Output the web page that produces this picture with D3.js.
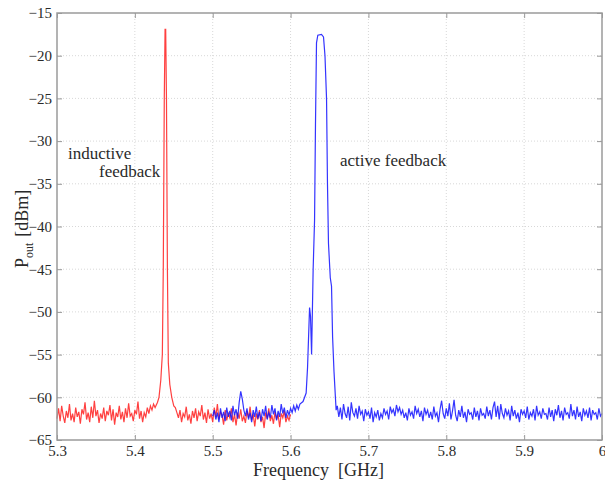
<!DOCTYPE html>
<html>
<head>
<meta charset="utf-8">
<script src="https://cdn.jsdelivr.net/npm/d3@7"></script>
<style>
  body { margin: 0; background: #fff; }
  svg, svg text { font-family: "Liberation Serif", "Times New Roman", Times, "DejaVu Serif", serif; }
  svg { display: block; }
  .grid line { stroke: #d8d8d8; stroke-dasharray: 1,2; }
  .tick text { fill: #2a2a2a; }
</style>
</head>
<body>
<svg id="chart" width="605" height="484"></svg>
<script>
// x and y tick values
var xTicks = [5.3, 5.4, 5.5, 5.6, 5.7, 5.8, 5.9, 6.0];
var xTickLabels = ["5.3", "5.4", "5.5", "5.6", "5.7", "5.8", "5.9", "6"];
var yTicks = [-65, -60, -55, -50, -45, -40, -35, -30, -25, -20, -15];

// sweep grid step of the analyser [GHz]
var sweepStep = 0.002;

// inductive feedback (red): noise floor before the peak, starts at 5.300
var redNoiseA = [-62.5,-61.3,-62.8,-61.0,-62.2,-63.0,-61.6,-62.4,-60.8,-62.7,-61.9,-62.9,-61.2,-62.3,-61.7,-63.1,-61.4,-62.0,-60.6,-62.6,
  -61.8,-62.9,-61.1,-62.4,-60.4,-62.2,-61.5,-63.0,-61.9,-62.5,-61.2,-62.8,-61.6,-62.1,-60.9,-62.7,-61.4,-63.2,-61.8,-62.3,
  -61.0,-62.6,-61.7,-62.9,-61.3,-62.4,-60.7,-62.2,-61.9,-62.8,-61.5,-62.0,-60.5,-62.5,-61.6,-62.9,-61.8,-62.3,-61.2,-61.9,
  -61.0,-61.5,-60.8,-61.2];
var redNoiseAStart = 5.300;
// the carrier peak, [GHz, dBm]
var redPeak = [[5.4290,-60.6],[5.4310,-60.0],[5.4333,-58.0],[5.4353,-55.0],[5.4365,-45.0],[5.4378,-25.0],
  [5.4388,-16.9],[5.4396,-16.9],[5.4406,-25.0],[5.4418,-45.0],[5.4430,-56.0],[5.4449,-58.5],[5.4474,-60.0],[5.4500,-61.0]];
// noise floor after the peak, starts at 5.452
var redNoiseB = [-61.2,-61.8,-62.4,-61.5,-62.9,-61.9,-62.3,-61.1,-62.7,-62.0,-63.1,-61.6,-62.4,-61.3,-62.8,-61.7,-62.2,-60.9,-62.6,-61.8,
  -63.0,-61.4,-62.5,-61.9,-62.9,-61.2,-62.3,-60.8,-62.6,-61.7,-62.1,-63.2,-61.5,-62.7,-61.9,-62.4,-61.3,-62.9,-62.0,-63.3,
  -61.8,-62.5,-61.4,-62.8,-62.2,-63.0,-61.6,-62.4,-61.1,-62.7,-62.0,-63.4,-61.9,-62.6,-61.5,-62.9,-62.3,-63.6,-61.8,-62.5,
  -61.3,-62.8,-62.1,-63.1,-61.7,-62.6,-62.0,-63.5,-61.9,-62.4,-61.6,-62.9,-62.2,-62.7,-62.0];
var redNoiseBStart = 5.452;

// active feedback (blue): noise floor before the peak, starts at 5.500
var blueNoiseA = [-62.2,-61.5,-62.6,-61.8,-62.9,-61.3,-62.4,-61.7,-62.8,-61.2,-62.3,-61.6,-62.7,-61.0,-62.1,-61.4,-62.5,-60.6,-59.3,-60.2,
  -61.5,-62.2,-61.3,-62.6,-61.8,-62.9,-61.5,-62.3,-61.1,-62.5,-61.7,-62.8,-61.4,-62.2,-61.0,-62.6,-61.8,-62.4,-60.9,-62.0,
  -61.3,-62.7,-61.6,-62.3,-60.8,-61.9,-61.2,-62.4,-61.5,-62.1,-61.3,-61.8,-61.0,-61.6,-60.9,-61.4,-60.8];
var blueNoiseAStart = 5.500;
var bluePeak = [[5.6160,-60.5],[5.6200,-59.5],[5.6218,-56.5],[5.6244,-49.5],[5.6256,-50.5],[5.6270,-55.0],[5.6290,-45.0],
  [5.6308,-39.3],[5.6320,-28.0],[5.6333,-18.5],[5.6350,-17.6],[5.6397,-17.5],[5.6423,-17.8],[5.6442,-20.0],[5.6462,-25.0],
  [5.6474,-35.0],[5.6487,-42.0],[5.6510,-46.0],[5.6526,-47.0],[5.6540,-53.0],[5.6558,-57.0],[5.6585,-61.5]];
// noise floor after the peak, starts at 5.660
var blueNoiseB = [-61.0,-62.3,-61.2,-62.6,-60.8,-61.9,-62.4,-61.1,-62.7,-60.6,-61.8,-62.2,-61.3,-62.5,-61.0,-62.0,-61.6,-62.8,-61.4,-62.1,
  -61.7,-62.5,-61.2,-62.9,-61.8,-62.3,-61.5,-62.7,-61.9,-62.4,-61.3,-62.0,-61.6,-62.6,-61.1,-61.8,-61.4,-62.2,-60.9,-61.7,
  -61.2,-62.0,-61.5,-62.4,-61.8,-62.7,-61.3,-62.1,-61.7,-62.5,-61.0,-61.9,-61.4,-62.3,-61.6,-62.8,-61.2,-62.0,-61.5,-62.4,
  -61.7,-62.6,-61.1,-62.2,-61.8,-62.9,-61.4,-60.4,-61.9,-62.5,-61.3,-62.2,-60.7,-62.6,-61.6,-60.3,-62.1,-62.8,-61.5,-62.3,
  -61.0,-62.4,-61.7,-62.9,-61.4,-62.0,-61.8,-62.6,-61.2,-62.3,-61.6,-62.7,-61.3,-62.1,-61.9,-62.5,-61.1,-62.2,-61.5,-62.6,
  -61.2,-60.5,-62.3,-61.0,-62.6,-60.8,-61.9,-62.4,-61.3,-62.1,-61.6,-62.7,-61.0,-62.2,-61.5,-62.5,-61.8,-62.9,-61.4,-62.0,
  -61.6,-62.4,-61.1,-62.6,-61.8,-62.2,-61.4,-62.7,-61.0,-62.1,-61.7,-62.5,-61.3,-62.0,-61.9,-62.6,-61.2,-62.3,-61.5,-62.8,
  -61.4,-62.1,-60.9,-62.4,-61.6,-62.7,-61.2,-62.0,-61.8,-62.5,-60.8,-62.2,-61.5,-62.6,-61.1,-62.3,-61.7,-62.8,-61.3,-62.1,
  -61.6,-62.4,-61.2,-62.7,-61.5,-62.0,-61.8,-62.6,-61.3,-62.2,-61.9];
var blueNoiseBStart = 5.660;

// put a noise run on the sweep grid
function sweep(values, start) {
  return values.map(function(v, i) { return [start + i * sweepStep, v]; });
}

var redSeries = sweep(redNoiseA, redNoiseAStart).concat(redPeak, sweep(redNoiseB, redNoiseBStart));
var blueSeries = sweep(blueNoiseA, blueNoiseAStart).concat(bluePeak, sweep(blueNoiseB, blueNoiseBStart));

var serif = "'Liberation Serif', 'Times New Roman', Times, serif";
var svg = d3.select("#chart");
var margin = {left: 57, right: 3, top: 13, bottom: 44};
var width = 605 - margin.left - margin.right,
    height = 484 - margin.top - margin.bottom;

var x = d3.scaleLinear().domain([5.3, 6.0]).range([0, width]);
var y = d3.scaleLinear().domain([-65, -15]).range([height, 0]);

var g = svg.append("g").attr("transform", "translate(" + margin.left + "," + margin.top + ")");

// dotted grid
var grid = g.append("g").attr("class", "grid");
grid.selectAll("line.gx").data(xTicks.slice(1, -1)).enter().append("line")
    .attr("x1", function(d) { return x(d); }).attr("x2", function(d) { return x(d); })
    .attr("y1", 0).attr("y2", height);
grid.selectAll("line.gy").data(yTicks.slice(1, -1)).enter().append("line")
    .attr("y1", function(d) { return y(d); }).attr("y2", function(d) { return y(d); })
    .attr("x1", 0).attr("x2", width);

// traces
var line = d3.line()
    .x(function(d) { return x(d[0]); })
    .y(function(d) { return y(d[1]); });

g.append("path").datum(redSeries)
    .attr("d", line)
    .attr("fill", "none")
    .attr("stroke", "#ff1010")
    .attr("stroke-opacity", 0.8)
    .attr("stroke-width", 1.2);

g.append("path").datum(blueSeries)
    .attr("d", line)
    .attr("fill", "none")
    .attr("stroke", "#1010ff")
    .attr("stroke-opacity", 0.85)
    .attr("stroke-width", 1.2);

// axes, ticks pointing inward on all four sides
var tickLen = 5;
var xAxis = d3.axisBottom(x).tickValues(xTicks).tickSizeInner(-tickLen).tickSizeOuter(0)
    .tickPadding(5).tickFormat(function(d, i) { return xTickLabels[i]; });
var yAxis = d3.axisLeft(y).tickValues(yTicks).tickSizeInner(-tickLen).tickSizeOuter(0)
    .tickPadding(5).tickFormat(d3.format("d"));

function styleAxis(sel) {
  sel.attr("font-family", serif);
  sel.select(".domain").remove();
  sel.selectAll(".tick line").attr("stroke", "#999");
  sel.selectAll(".tick text").style("font-size", "15px").style("font-family", serif);
}

g.append("g").attr("transform", "translate(0," + height + ")").call(xAxis).call(styleAxis);
g.append("g").call(yAxis).call(styleAxis);
g.append("g").call(d3.axisTop(x).tickValues(xTicks).tickSizeInner(-tickLen).tickSizeOuter(0).tickFormat(""))
    .call(styleAxis);
g.append("g").attr("transform", "translate(" + width + ",0)")
    .call(d3.axisRight(y).tickValues(yTicks).tickSizeInner(-tickLen).tickSizeOuter(0).tickFormat(""))
    .call(styleAxis);

// frame
g.append("rect")
    .attr("width", width).attr("height", height)
    .attr("fill", "none").attr("stroke", "#9a9a9a").attr("stroke-width", 1.5);

// axis titles
svg.append("text")
    .attr("x", 253).attr("y", 476)
    .attr("fill", "#2a2a2a")
    .style("font-size", "18px")
    .style("font-family", serif)
    .attr("xml:space", "preserve")
    .text("Frequency  [GHz]");

var yl = svg.append("text")
    .attr("transform", "translate(28,268) rotate(-90)")
    .attr("fill", "#2a2a2a")
    .style("font-size", "18px")
    .style("font-family", serif);
yl.append("tspan").text("P");
yl.append("tspan").attr("dy", 5).style("font-size", "12px").text("out");
yl.append("tspan").attr("dy", -5).attr("dx", 6).text("[dBm]");

// annotations
var notes = [
  {text: "inductive", x: 68, y: 159},
  {text: "feedback", x: 99, y: 177},
  {text: "active feedback", x: 340, y: 166}
];
svg.selectAll("text.note").data(notes).enter().append("text")
    .attr("class", "note")
    .attr("x", function(d) { return d.x; })
    .attr("y", function(d) { return d.y; })
    .attr("fill", "#2a2a2a")
    .style("font-size", "17px")
    .style("font-family", serif)
    .text(function(d) { return d.text; });
</script>
</body>
</html>
